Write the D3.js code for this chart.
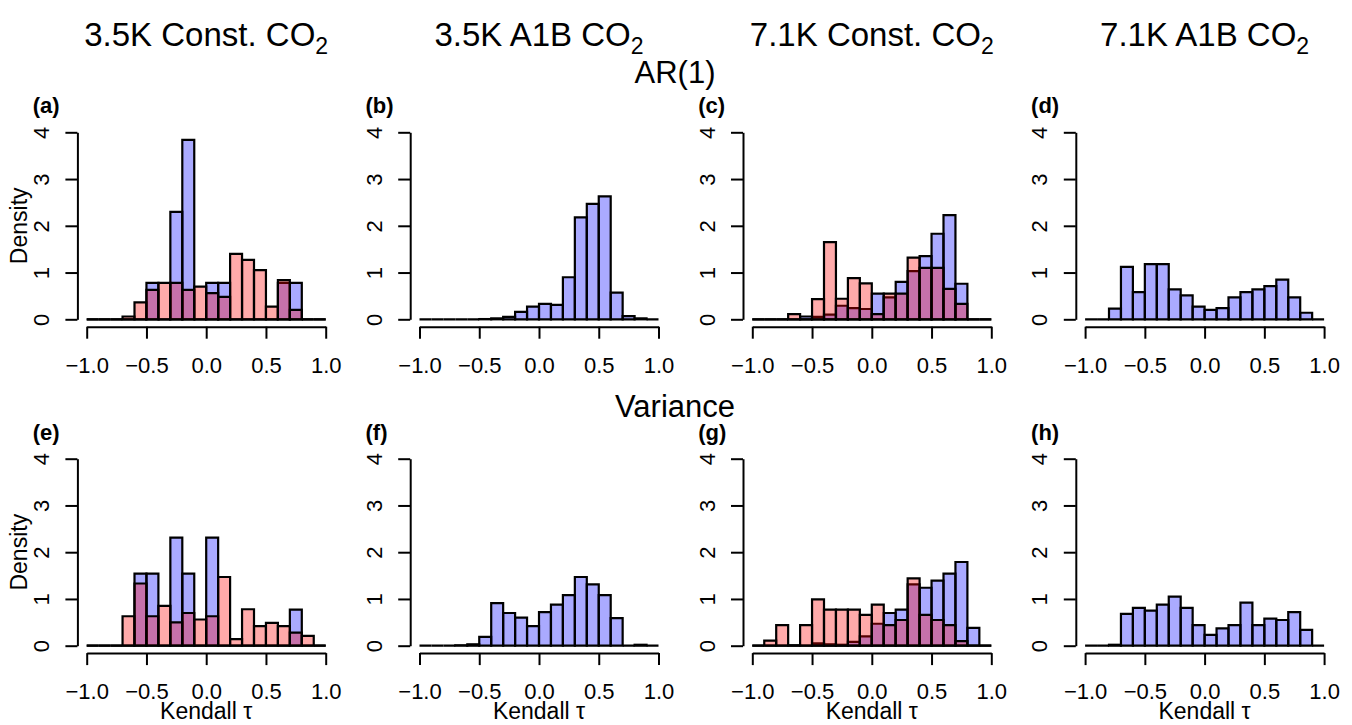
<!DOCTYPE html>
<html>
<head>
<meta charset="utf-8">
<title>Kendall tau histograms</title>
<script src="https://d3js.org/d3.v7.min.js"></script>
<style>
  body { margin: 0; background: #fff; }
  text { font-family: "Liberation Sans", Arial, Helvetica, sans-serif; fill: #000; }
</style>
</head>
<body>
<script>

// bin starts (width 0.1) on the Kendall tau axis
var binStart = [-1.0,-0.9,-0.8,-0.7,-0.6,-0.5,-0.4,-0.3,-0.2,-0.1,0.0,0.1,0.2,0.3,0.4,0.5,0.6,0.7,0.8,0.9];
var binWidth = 0.1;

var colTitles = ["3.5K Const. CO", "3.5K A1B CO", "7.1K Const. CO", "7.1K A1B CO"];
var rowTitles = ["AR(1)", "Variance"];
var panelLetters = ["(a)","(b)","(c)","(d)","(e)","(f)","(g)","(h)"];
var xTicks = [-1.0, -0.5, 0.0, 0.5, 1.0];
var yTicks = [0, 1, 2, 3, 4];

// AR(1) row
var ar1_35const_blue = [0,0,0,0,0,0.78,0,2.30,3.84,0,0.78,0.78,0,0,0,0,0.78,0.78,0,0];
var ar1_35const_red  = [0,0,0,0.06,0.36,0.63,0.78,0.78,0.63,0.70,0.56,0.48,1.40,1.27,1.05,0.27,0.84,0.20,0,0];
var ar1_35a1b_blue   = [0,0,0,0,0,0.005,0.02,0.05,0.16,0.27,0.33,0.31,0.90,2.18,2.47,2.63,0.57,0.07,0.02,0];
var ar1_71const_blue = [0,0,0,0,0.06,0.05,0.10,0.29,0.24,0.22,0.55,0.47,0.80,1.03,1.35,1.83,2.23,0.76,0,0];
var ar1_71const_red  = [0,0,0,0.11,0,0.43,1.65,0.44,0.88,0.77,0.11,0.55,0.55,1.32,1.10,1.10,0.65,0.33,0,0];
var ar1_71a1b_blue   = [0,0,0.23,1.12,0.58,1.18,1.18,0.64,0.51,0.27,0.20,0.24,0.47,0.58,0.64,0.71,0.85,0.47,0.14,0];

// Variance row
var var_35const_blue = [0,0,0,0,1.54,1.54,0,2.31,1.54,0,2.31,0,0,0,0,0,0,0.77,0,0];
var var_35const_red  = [0,0,0,0.63,1.33,0.63,0.85,0.50,0.70,0.56,0.63,1.47,0.14,0.78,0.42,0.49,0.42,0.28,0.21,0];
var var_35a1b_blue   = [0,0,0,0.01,0.03,0.19,0.91,0.70,0.60,0.42,0.72,0.88,1.08,1.47,1.31,1.08,0.59,0,0.02,0];
var var_71const_blue = [0,0,0,0,0,0.05,0.03,0.02,0.08,0.20,0.47,0.70,0.77,1.31,1.24,1.39,1.54,1.79,0.38,0];
var var_71const_red  = [0,0.11,0.44,0.01,0.44,0.99,0.77,0.77,0.77,0.66,0.88,0.44,0.55,1.44,0.66,0.55,0.44,0.10,0,0];
var var_71a1b_blue   = [0,0,0.02,0.68,0.81,0.75,0.88,1.05,0.81,0.44,0.23,0.37,0.44,0.92,0.44,0.58,0.55,0.72,0.34,0];

var panels = [
  {blue: ar1_35const_blue, red: ar1_35const_red},
  {blue: ar1_35a1b_blue,   red: null},
  {blue: ar1_71const_blue, red: ar1_71const_red},
  {blue: ar1_71a1b_blue,   red: null},
  {blue: var_35const_blue, red: var_35const_red},
  {blue: var_35a1b_blue,   red: null},
  {blue: var_71const_blue, red: var_71const_red},
  {blue: var_71a1b_blue,   red: null}
];

var W = 1352, H = 725;
var colX = [86.7, 419.5, 752.3, 1085.1];   // pixel of tau = -1
var plotW = 239;
var rowY0 = [319.3, 645.7];                 // pixel of density = 0
var plotH = 187;

var svg = d3.select("body").append("svg")
  .attr("width", W)
  .attr("height", H);

svg.append("rect").attr("width", W).attr("height", H).attr("fill", "#fff");

// column titles with subscript 2
colTitles.forEach(function(t, i) {
  var tx = svg.append("text")
    .attr("x", colX[i] + plotW / 2)
    .attr("y", 46)
    .attr("text-anchor", "middle")
    .attr("font-size", 33)
    .text(t);
  tx.append("tspan")
    .attr("font-size", 23)
    .attr("dy", 8)
    .text("2");
});

// row titles
svg.append("text").attr("x", 675).attr("y", 83).attr("text-anchor", "middle")
  .attr("font-size", 31).text(rowTitles[0]);
svg.append("text").attr("x", 675).attr("y", 417).attr("text-anchor", "middle")
  .attr("font-size", 31).text(rowTitles[1]);

function barPath(x, y, d) {
  var x0 = x(d.start), x1 = x(d.start + binWidth), yb = y(0), yt = y(d.v);
  return "M" + x0 + "," + yb + "H" + x1 + "V" + yt + "H" + x0 + "Z";
}

panels.forEach(function(p, i) {
  var col = i % 4, row = Math.floor(i / 4);

  var x = d3.scaleLinear().domain([-1, 1]).range([colX[col], colX[col] + plotW]);
  var y = d3.scaleLinear().domain([0, 4]).range([rowY0[row], rowY0[row] - plotH]);

  var g = svg.append("g");

  var series = [{vals: p.blue, fill: "rgba(0,0,255,0.333)"}];
  if (p.red) series.push({vals: p.red, fill: "rgba(255,0,0,0.333)"});

  series.forEach(function(s) {
    var data = s.vals.map(function(v, k) { return {start: binStart[k], v: v}; });
    g.append("g").selectAll("path")
      .data(data)
      .enter()
        .append("path")
        .attr("d", function(d) { return barPath(x, y, d); })
        .attr("fill", s.fill)
        .attr("stroke", "black")
        .attr("stroke-width", 2.2);
  });

  // x axis (R style: offset below the bars)
  var xa = g.append("g")
    .attr("transform", "translate(0," + (rowY0[row] + 7.4) + ")")
    .call(d3.axisBottom(x).tickValues(xTicks).tickFormat(d3.format(".1f"))
      .tickSize(12).tickSizeOuter(0).tickPadding(18.5));
  xa.selectAll("path, line").attr("stroke", "black").attr("stroke-width", 2);
  xa.selectAll("text").attr("font-size", 22).attr("font-family", null).attr("fill", "black");

  // y axis with rotated labels
  var ya = g.append("g")
    .attr("transform", "translate(" + (colX[col] - 9.3) + ",0)")
    .call(d3.axisLeft(y).tickValues(yTicks).tickFormat(d3.format("d"))
      .tickSize(12).tickSizeOuter(0));
  ya.selectAll("path, line").attr("stroke", "black").attr("stroke-width", 2);
  ya.selectAll("text")
    .attr("x", 0).attr("y", 0).attr("dy", "0.36em")
    .attr("text-anchor", "middle")
    .attr("transform", "translate(-36.3,0) rotate(-90)")
    .attr("font-size", 22).attr("font-family", null).attr("fill", "black");

  // panel letter
  g.append("text")
    .attr("x", colX[col] - 54)
    .attr("y", rowY0[row] - 206)
    .attr("font-size", 22)
    .attr("font-weight", "bold")
    .text(panelLetters[i]);

  if (col === 0) {
    g.append("text")
      .attr("transform", "translate(19," + y(2) + ") rotate(-90)")
      .attr("dy", "0.36em")
      .attr("text-anchor", "middle")
      .attr("font-size", 23)
      .text("Density");
  }
  if (row === 1) {
    g.append("text")
      .attr("x", colX[col] + plotW / 2)
      .attr("y", rowY0[row] + 73.5)
      .attr("text-anchor", "middle")
      .attr("font-size", 23)
      .text("Kendall τ");
  }
});

</script>
</body>
</html>
